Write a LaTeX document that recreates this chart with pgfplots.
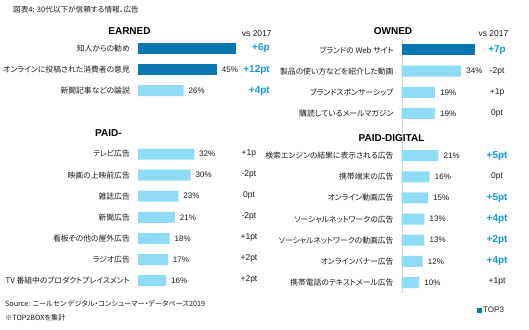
\documentclass[border=0pt]{standalone}
\usepackage{pgfplots}
\pgfplotsset{compat=1.18}
\usepackage{fontspec}
\setmainfont{Liberation Sans}
\newfontfamily\jp{Noto Sans CJK JP}[RawFeature=+palt]
\definecolor{darkbar}{HTML}{0978B2}
\definecolor{lightbar}{HTML}{8FDCF7}
\definecolor{chblue}{HTML}{1499D8}
\definecolor{txt}{HTML}{1A1A1A}
\pgfplotsset{panel/.style={
  xbar, bar width=11pt,
  x=1.75pt, xmin=0, xmax=60,
  y dir=reverse, ymin=0.5, ymax=12.5,
  axis x line=none, axis y line=left,
  major tick length=0pt,
  yticklabel style={font=\jp\fontsize{7.8}{8}\selectfont, text=txt, inner sep=0pt, xshift=-8pt},
  clip=false,
  point meta=x,
  /pgf/number format/assume math mode=true,
  nodes near coords align=horizontal,
  every node near coord/.append style={font=\fontsize{8}{9}\selectfont, text=txt, inner sep=0pt, xshift=5pt},
  anchor=north west,
}}
\tikzset{blue ch/.style={font=\bfseries\fontsize{10}{11}\selectfont, text=chblue},
         black ch/.style={font=\fontsize{8.5}{10}\selectfont, text=txt}}
\pgfplotstableread{
v y
56 1
}\leftdarkA
\pgfplotstableread{
v y
45 2
}\leftdarkB
\pgfplotstableread{
v y
26 3
32 6
30 7
23 8
21 9
18 10
17 11
16 12
}\leftlight
\pgfplotstableread{
v y
42 1
}\rightdark
\pgfplotstableread{
v y
34 2
19 3
19 4
21 6
16 7
15 8
13 9
13 10
12 11
10 12
}\rightlight
\begin{document}
\begin{tikzpicture}[every node/.style={inner sep=0pt}]
\path[use as bounding box] (0,0) rectangle (529pt,-329pt);
% left panel: EARNED + PAID-
\begin{axis}[panel, at={(138pt,-37.95pt)}, y=21.1pt,
  y axis line style={draw=none},
  ytick={1,2,3,6,7,8,9,10,11,12},
  yticklabels={知人からの勧め, オンラインに投稿された消費者の意見, 新聞記事などの論説, テレビ広告, 映画の上映前広告, 雑誌広告, 新聞広告, 看板その他の屋外広告, ラジオ広告, TV 番組中のプロダクトプレイスメント}]
\addplot[fill=darkbar, draw=none, bar shift=0pt] table[x=v, y=y] {\leftdarkA};
\addplot[fill=darkbar, draw=none, bar shift=0pt, nodes near coords={\pgfmathprintnumber{\pgfplotspointmeta}\%}] table[x=v, y=y] {\leftdarkB};
\addplot[fill=lightbar, draw=none, bar shift=0pt, nodes near coords={\pgfmathprintnumber{\pgfplotspointmeta}\%}] table[x=v, y=y] {\leftlight};
\node[blue ch, anchor=east] at (axis cs:75.4,1) {+6p};
\node[blue ch, anchor=east] at (axis cs:75.4,2) {+12pt};
\node[blue ch, anchor=east] at (axis cs:75.4,3) {+4pt};
\node[black ch, yshift=1pt] at (axis cs:63.4,6) {+1p};
\node[black ch, yshift=1pt] at (axis cs:63.4,7) {-2pt};
\node[black ch, yshift=1pt] at (axis cs:63.4,8) {0pt};
\node[black ch, yshift=1pt] at (axis cs:63.4,9) {-2pt};
\node[black ch, yshift=1pt] at (axis cs:63.4,10) {+1pt};
\node[black ch, yshift=1pt] at (axis cs:63.4,11) {+2pt};
\node[black ch, yshift=1pt] at (axis cs:63.4,12) {+2pt};
\end{axis}
% right panel: OWNED + PAID-DIGITAL
\begin{axis}[panel, at={(401.7pt,-39.4pt)}, y=21.14pt,
  y axis line style={-, draw=gray!35},
  ytick={1,2,3,4,6,7,8,9,10,11,12},
  yticklabels={ブランドの Web サイト, 製品の使い方などを紹介した動画, ブランドスポンサーシップ, 購読しているメールマガジン, 検索エンジンの結果に表示される広告, 携帯端末の広告, オンライン動画広告, ソーシャルネットワークの広告, ソーシャルネットワークの動画広告, オンラインバナー広告, 携帯電話のテキストメール広告}]
\addplot[fill=darkbar, draw=none, bar shift=0pt] table[x=v, y=y] {\rightdark};
\addplot[fill=lightbar, draw=none, bar shift=0pt, nodes near coords={\pgfmathprintnumber{\pgfplotspointmeta}\%}] table[x=v, y=y] {\rightlight};
\node[blue ch] at (axis cs:54.5,1) {+7p};
\node[black ch] at (axis cs:54.5,2) {-2pt};
\node[black ch] at (axis cs:54.5,3) {+1p};
\node[black ch] at (axis cs:54.5,4) {0pt};
\node[blue ch] at (axis cs:54.5,6) {+5pt};
\node[black ch] at (axis cs:54.5,7) {0pt};
\node[blue ch] at (axis cs:54.5,8) {+5pt};
\node[blue ch] at (axis cs:54.5,9) {+4pt};
\node[blue ch] at (axis cs:54.5,10) {+2pt};
\node[blue ch] at (axis cs:54.5,11) {+4pt};
\node[black ch, yshift=1pt] at (axis cs:54.5,12) {+1pt};
\end{axis}
% headings and notes
\node[font=\bfseries\fontsize{10}{12}\selectfont] at (129.5pt,-31.5pt) {EARNED};
\node[font=\bfseries\fontsize{10}{12}\selectfont, anchor=west] at (95pt,-133.5pt) {PAID-};
\node[font=\bfseries\fontsize{10}{12}\selectfont] at (393pt,-31.5pt) {OWNED};
\node[font=\bfseries\fontsize{10}{12}\selectfont] at (391.5pt,-138.3pt) {PAID-DIGITAL};
\node[font=\fontsize{8.5}{10}\selectfont, text=txt, anchor=west] at (241.7pt,-33.5pt) {vs 2017};
\node[font=\fontsize{8.5}{10}\selectfont, text=txt, anchor=west] at (478.3pt,-33.3pt) {vs 2017};
\node[font=\jp\fontsize{7.6}{8}\selectfont, text=txt, anchor=west] at (13pt,-10pt) {図表4: 30代以下が信頼する情報、広告};
\node[font=\jp\fontsize{7.2}{8}\selectfont, text=txt, anchor=west] at (5pt,-303.3pt) {Source: ニールセン デジタル・コンシューマー・データベース2019};
\node[font=\jp\fontsize{7.2}{8}\selectfont, text=txt, anchor=west] at (5pt,-317.7pt) {※TOP2BOXを集計};
\fill[darkbar] (476.7pt,-307.5pt) rectangle (481.7pt,-312.5pt);
\node[font=\fontsize{8}{9}\selectfont, text=txt, anchor=west] at (483pt,-310pt) {TOP3};
\end{tikzpicture}
\end{document}
